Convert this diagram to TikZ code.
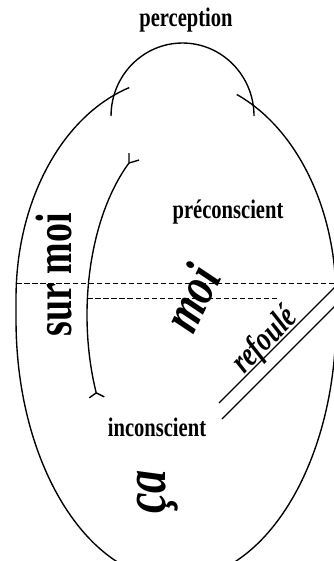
\documentclass[tikz,border=0pt]{standalone}
\usepackage{fontspec}
\setmainfont{Liberation Serif}
\usetikzlibrary{calc}

\tikzset{
  zone/.style={font=\bfseries\fontsize{19.5}{19.5}\selectfont, inner sep=0pt, yscale=1.3},
  instance/.style={font=\bfseries\fontsize{36}{36}\selectfont, inner sep=0pt, yscale=1.35},
  slanted/.style={font=\bfseries\itshape\fontsize{#1}{#1}\selectfont, inner sep=0pt, yscale=1.3}
}

\begin{document}
\begin{tikzpicture}[line width=1.3pt]
        \useasboundingbox (0,0) rectangle (11.133,18.7);

        % Outer shell, open at the top
        \draw (5.867,8.767) ++(107:5.333 and 7.333) coordinate (shelltl)
            arc[start angle=107, end angle=180, x radius=5.333, y radius=7.333]
            -- ++(0,-0.733)
            arc[start angle=180, end angle=360, x radius=5.333, y radius=8.667]
            -- ++(0,0.733)
            arc[start angle=0, end angle=67.7, x radius=5.333, y radius=7.333] coordinate (shelltr);

        % Perception cap
        \draw (8.467,14.833) coordinate (capr)
            arc[start angle=0, end angle=180, x radius=2.383, y radius=2.433] coordinate (capl);

        % Inner arc with forked ends
        \draw (6.4,8.2) ++(126.9:3.5 and 6.333) coordinate (innertop)
            arc[start angle=126.9, end angle=204.2, x radius=3.5, y radius=6.333] coordinate (innerbot);
        \draw (innertop) -- ++(0,0.333) (innertop) -- ++(0.333,0.1);
        \draw (innerbot) -- ++(-0.233,-0.167) (innerbot) -- ++(0.267,-0.133);

        % Dashed boundaries
        \coordinate (dashul) at (0.547,9.267);
        \coordinate (dashur) at (11.19,9.267);
        \coordinate (dashll) at (2.914,8.767);
        \coordinate (dashlr) at (9.233,8.767);
        \draw[line width=0.8pt, dash pattern=on 5pt off 2.6pt] (dashul) -- (dashur);
        \draw[line width=0.8pt, dash pattern=on 5pt off 2.6pt] (dashll) -- (dashlr);

        % Repression bar
        \draw (7.3,5.267) -- ++(4.2,4.2);
        \draw (7.4,4.733) -- ++(4.2,4.2);

        % Labels
        \node[zone] (percept) at (6.2,18.033) {perception};
        \node[zone] (precons) at (7.6,11.633) {préconscient};
        \node[zone] (incons) at (5.233,4.467) {inconscient};
        \node[rotate=90, instance] (surmoi) at (1.8,9.533) {sur moi};
        \node[rotate=64, slanted=40] (moi) at (6.367,8.767) {moi};
        \node[rotate=46, slanted=25] (refoul) at (8.85,7.33) {refoulé};
        \node[rotate=90, slanted=44] (ca) at (5.267,2.3) {ça};
    \end{tikzpicture}
\end{document}
